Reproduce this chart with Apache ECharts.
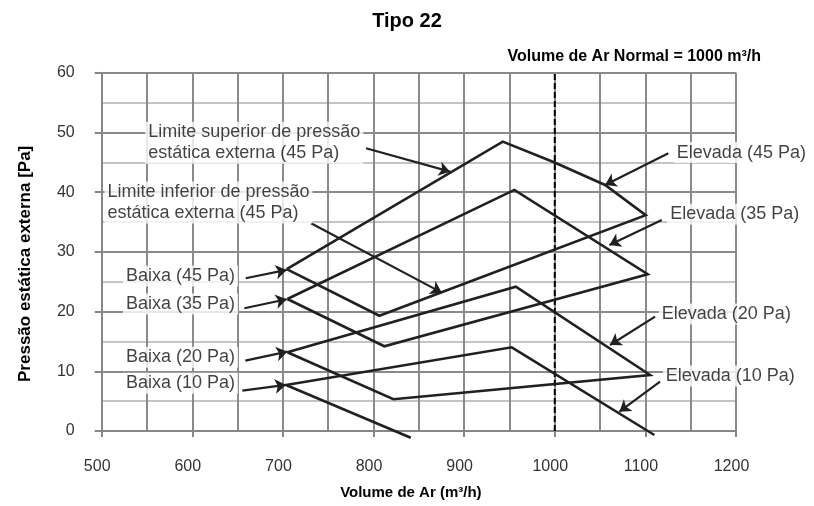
<!DOCTYPE html>
<html>
<head>
<meta charset="utf-8">
<script src="https://cdn.jsdelivr.net/npm/echarts@6/dist/echarts.min.js"></script>
<style>html,body{margin:0;padding:0;background:#fff}#c{width:814px;height:506px}</style>
</head>
<body>
<div id="c"></div>
<script>
// ---- data ----
const xMin = 500, xMax = 1200, xStep = 100;
const yMin = 0, yMax = 60, yStep = 10;
const normalVolume = 1000;

// closed operating curves [volume m3/h, pressure Pa]
const curve45 = [[704.2,27.1],[942.6,48.46],[999.2,45.0],[1055.5,41.2],[1100.4,36.13],[806.4,19.3],[704.2,27.1]];
const curve35 = [[704.9,22.1],[955.4,40.37],[1102.6,26.25],[811.9,14.19],[704.9,22.1]];
const curve20 = [[704.9,13.18],[957,24.17],[1105.2,9.38],[821.9,5.31],[704.9,13.18]];
const curve10 = [[841.1,-1.12],[703.4,7.7],[952.5,14.02],[1109.9,-0.67]];

const labelTexts = [
  'Limite superior de pressão\nestática externa (45 Pa)',
  'Limite inferior de pressão\nestática externa (45 Pa)',
  'Baixa (45 Pa)', 'Baixa (35 Pa)', 'Baixa (20 Pa)', 'Baixa (10 Pa)',
  'Elevada (45 Pa)', 'Elevada (35 Pa)', 'Elevada (20 Pa)', 'Elevada (10 Pa)'
];
const labelAnchors = [
  [548,48.29],[503,38.27],
  [523.5,25.96],[523.5,21.27],[523.5,12.35],[523.5,7.99],
  [1131.4,46.62],[1124,36.3],[1114.8,19.6],[1119.2,9.21]
];
const arrowFrom = [
  [791.7,47.35],[731,34.79],
  [658.9,25.58],[657.4,20.55],[658.5,11.78],[655.2,6.75],
  [1125.4,46.52],[1118.1,35.34],[1110.7,19.15],[1116.2,8.26]
];
const arrowTo = [
  [884.4,43.43],[875.3,23.17],
  [704.2,26.97],[704.2,22.06],[704.9,13.28],[703.4,7.71],
  [1055.5,41.2],[1060.3,31.16],[1061,14.41],[1071.3,3.23]
];

// ---- chart ----
const FONT = 'Liberation Sans, Arial, sans-serif';
const INK = '#231f20';
const chart = echarts.init(document.getElementById('c'), null, {renderer: 'canvas'});

const curveSeries = [curve45, curve35, curve20, curve10].map(d => ({
  type: 'line', data: d, symbol: 'none', clip: false, silent: true,
  lineStyle: {color: INK, width: 2.6, join: 'miter'}, z: 3
}));

chart.setOption({
  animation: false,
  title: [
    {text: 'Tipo 22', left: 'center', top: 6,
     textStyle: {fontFamily: FONT, fontSize: 20, fontWeight: 'bold', color: '#000'}},
    {text: 'Volume de Ar Normal = 1000 m³/h', right: 48, top: 44,
     textStyle: {fontFamily: FONT, fontSize: 16, fontWeight: 'bold', color: '#000'}}
  ],
  grid: {left: 101.7, right: 78, top: 72.7, bottom: 75},
  xAxis: {
    type: 'value', min: xMin, max: xMax, interval: xStep,
    name: 'Volume de Ar (m³/h)', nameLocation: 'middle', nameGap: 54,
    nameTextStyle: {fontFamily: FONT, fontSize: 15, fontWeight: 'bold', color: '#000', padding: [0, 16, 0, 0]},
    axisLine: {show: true, lineStyle: {color: '#878787', width: 2}},
    axisTick: {show: true, length: 6, lineStyle: {color: '#878787', width: 2}},
    axisLabel: {fontFamily: FONT, fontSize: 16, color: '#333', margin: 28, padding: [0, 9, 0, 0],
      formatter: v => String(v)},
    splitLine: {show: true, lineStyle: {color: '#8a8a8a', width: 2}},
    minorTick: {show: false, splitNumber: 2},
    minorSplitLine: {show: true, lineStyle: {color: '#8a8a8a', width: 2}}
  },
  yAxis: {
    type: 'value', min: yMin, max: yMax, interval: yStep,
    name: 'Pressão estática externa [Pa]', nameLocation: 'middle', nameGap: 68, nameRotate: 90,
    nameTextStyle: {fontFamily: FONT, fontSize: 17, fontWeight: 'bold', color: '#000', padding: [0, 24, 0, 0]},
    axisLine: {show: true, lineStyle: {color: '#878787', width: 2}},
    axisTick: {show: true, length: 7, lineStyle: {color: '#878787', width: 2}},
    axisLabel: {fontFamily: FONT, fontSize: 16, color: '#333', margin: 27},
    splitLine: {show: true, lineStyle: {color: '#8a8a8a', width: 2}},
    minorTick: {show: false, splitNumber: 2},
    minorSplitLine: {show: true, lineStyle: {color: '#c4c4c4', width: 2}}
  },
  series: [
    // normal volume dashed line
    {type: 'line', data: [[normalVolume, yMin], [normalVolume, yMax]], symbol: 'none', silent: true,
     lineStyle: {color: '#000', width: 2, type: [6, 3]}, z: 2},
    ...curveSeries,
    // arrows
    {type: 'line', data: [], silent: true,
     markLine: {
       silent: true, symbol: ['none', 'arrow'], symbolSize: 11, animation: false,
       label: {show: false},
       lineStyle: {color: INK, width: 2.2, type: 'solid'},
       data: arrowFrom.map((f, i) => [{coord: f}, {coord: arrowTo[i]}])
     }, z: 4},
    // text labels
    {type: 'scatter', symbolSize: 0, silent: true, z: 5,
     data: labelAnchors.map((p, i) => ({value: p, name: labelTexts[i]})),
     label: {show: true, position: 'right', distance: 0, align: 'left', verticalAlign: 'middle',
       formatter: p => p.name, fontFamily: FONT, fontSize: 18, lineHeight: 21, color: '#111',
       backgroundColor: '#fff', padding: [0, 3]}}
  ]
});
</script>
</body>
</html>
